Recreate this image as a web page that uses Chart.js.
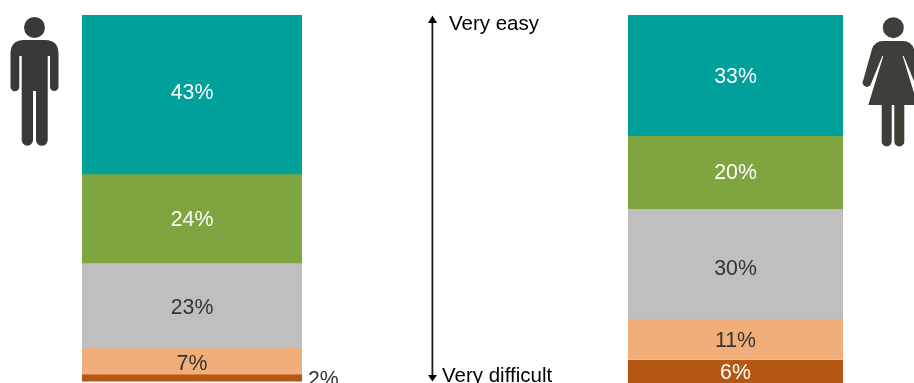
<!DOCTYPE html>
<html>
<head>
<meta charset="utf-8">
<title>Ease by gender</title>
<script src="https://cdn.jsdelivr.net/npm/chart.js@4/dist/chart.umd.min.js"></script>
<style>
html, body { margin: 0; padding: 0; background: #fff; overflow: hidden; }
#page { position: relative; width: 914px; height: 383px; overflow: hidden; }
.box { position: absolute; top: 15px; height: 368px; }
#menBox { left: 82px; width: 268px; }
#womenBox { left: 628px; width: 215px; }
#overlay { position: absolute; left: 0; top: 0; }
#overlay text { font-family: "Liberation Sans", Arial, sans-serif; font-size: 20.5px; fill: #000; }
</style>
</head>
<body>
<div id="page">
	<div class="box" id="menBox"><canvas id="men"></canvas></div>
	<div class="box" id="womenBox"><canvas id="women"></canvas></div>
	<svg id="overlay" width="914" height="383" viewBox="0 0 914 383">
		<!-- man -->
		<g fill="#383a39">
			<circle cx="34.5" cy="27.5" r="10.5"/>
			<path d="M24 40H45Q58.5 40 58.5 54V86.8A4.25 4.25 0 0 1 50 86.8V56H47.7V140A5.85 5.85 0 0 1 36 140V91H33V140A5.65 5.65 0 0 1 21.7 140V56H19.3V86.8A4.4 4.4 0 0 1 10.5 86.8V54Q10.5 40 24 40Z"/>
		</g>
		<!-- woman -->
		<g fill="#3e3f39">
			<circle cx="893.3" cy="27.7" r="10.5"/>
			<g id="halfWoman">
				<path d="M893.5 41H883Q875 41 872 49L863.3 80A4 4 0 0 0 870.5 85L882.3 56H883.3L868.3 105H881.7V141.5A5 5 0 0 0 891.7 141.5V105H893.5Z"/>
			</g>
			<use href="#halfWoman" transform="translate(1786,0) scale(-1,1)"/>
		</g>
		<!-- ease arrow -->
		<line x1="432.4" y1="20" x2="432.4" y2="378" stroke="#1a1a1a" stroke-width="1.8"/>
		<path d="M432.5 15.5L437 23H428Z" fill="#000"/>
		<path d="M432.5 381.5L437 375H428Z" fill="#000"/>
		<text id="topLabel" x="449" y="30"></text>
		<text id="bottomLabel" x="442" y="382"></text>
	</svg>
</div>
<script>
var scaleLabels = ['Very easy', 'Very difficult'];
var categories = ['Very easy', 'Easy', 'Neither', 'Difficult', 'Very difficult'];
var menValues = [43.2, 24.2, 23.1, 7.1, 1.9];
var womenValues = [32.8, 19.8, 30.0, 10.9, 6.49];

var seriesColors = ['#00a09b', '#7fa540', '#bfbfbf', '#f2ae78', '#b45712'];
var labelColors = ['#ffffff', '#ffffff', '#333333', '#333333', '#ffffff'];
// the labels sit a little off the segment centres in the original
var menLabelNudge = [-2, 1, 2, 2, 1];
var womenLabelNudge = [1, 0, 4, 1, 1];

document.getElementById('topLabel').textContent = scaleLabels[0];
document.getElementById('bottomLabel').textContent = scaleLabels[1];

// percent labels, small segments go outside the bar
var percentLabels = {
	id: 'percentLabels',
	afterDatasetsDraw: function(chart) {
		var ctx = chart.ctx;
		var nudge = chart.canvas.id === 'men' ? menLabelNudge : womenLabelNudge;
		ctx.save();
		ctx.font = '21.3px "Liberation Sans", Arial, sans-serif';
		ctx.textBaseline = 'middle';
		chart.data.datasets.forEach(function(ds, i) {
			var bar = chart.getDatasetMeta(i).data[0];
			var value = ds.data[0];
			var text = Math.round(value) + '%';
			var y = (bar.y + bar.base) / 2 + 1 + nudge[i];
			if (value < 3) {
				ctx.textAlign = 'left';
				ctx.fillStyle = '#333333';
				ctx.fillText(text, bar.x + bar.width / 2 + 6, y);
			} else {
				ctx.textAlign = 'center';
				ctx.fillStyle = labelColors[i];
				ctx.fillText(text, bar.x, y);
			}
		});
		ctx.restore();
	}
};

function initStack(canvasId, label, values, rightPad, separator) {
	var ctx = document.getElementById(canvasId).getContext('2d');
	return new Chart(ctx, {
		type: 'bar',
		data: {
			labels: [label],
			datasets: categories.map(function(name, i) {
				return {
					label: name,
					data: [values[i]],
					backgroundColor: seriesColors[i],
					borderColor: '#ffffff',
					// thin white rule above the bottom segment
					borderWidth: (separator && i === categories.length - 1) ? { top: 1 } : 0,
					borderSkipped: false,
					barPercentage: 1,
					categoryPercentage: 1
				};
			})
		},
		options: {
			responsive: true,
			maintainAspectRatio: false,
			animation: false,
			layout: { padding: { left: 0, right: rightPad, top: 0, bottom: 0 } },
			plugins: { legend: { display: false }, tooltip: { enabled: false } },
			scales: {
				x: { stacked: true, display: false },
				// top of the stack is at 100 for both, so men's bar stops short
				y: { stacked: true, display: false, min: 0, max: 100, reverse: true }
			}
		},
		plugins: [percentLabels]
	});
}

initStack('men', 'Men', menValues, 48, false);
initStack('women', 'Women', womenValues, 0, true);
</script>
</body>
</html>
